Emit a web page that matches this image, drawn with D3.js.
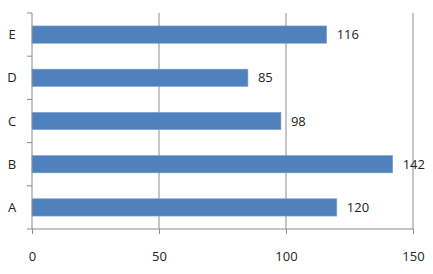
<!DOCTYPE html>
<html>
<head>
<meta charset="utf-8">
<script src="https://cdn.jsdelivr.net/npm/d3@7"></script>
<style>
  body { margin: 0; background: #fff; }
  text { font-family: "Open Sans", "Liberation Sans", sans-serif; fill: #222; }
</style>
</head>
<body>
<script>
// Chart data
const categories = ['A', 'B', 'C', 'D', 'E'];
const values = [120, 142, 98, 85, 116];
const xTicks = [0, 50, 100, 150];

const width = 433;
const height = 274;
const margin = { top: 13, right: 20, bottom: 45, left: 32 };

const svg = d3.select('body')
  .append('svg')
  .attr('width', width)
  .attr('height', height);

// Scales
const xScale = d3.scaleLinear()
  .domain([0, 150])
  .range([margin.left, 413]);

const yScale = d3.scaleBand()
  .domain(categories.slice().reverse())
  .range([margin.top, height - margin.bottom])
  .paddingInner(0.6)
  .paddingOuter(0.3);

const plotBottom = height - margin.bottom;

// Vertical gridlines
svg.append('g')
  .selectAll('line')
  .data(xTicks.slice(1))
  .enter()
  .append('line')
  .attr('x1', d => xScale(d))
  .attr('x2', d => xScale(d))
  .attr('y1', margin.top)
  .attr('y2', plotBottom)
  .attr('stroke', '#8c8c8c')
  .attr('stroke-width', 1);

// Bars
svg.selectAll('.bar')
  .data(categories)
  .enter()
  .append('rect')
  .attr('class', 'bar')
  .attr('x', xScale(0))
  .attr('y', d => yScale(d))
  .attr('width', (d, i) => xScale(values[i]) - xScale(0))
  .attr('height', yScale.bandwidth())
  .attr('fill', '#4f81bd')
  .attr('stroke', '#7aa1d2')
  .attr('stroke-width', 0.6);

// Value labels
svg.selectAll('.val')
  .data(categories)
  .enter()
  .append('text')
  .attr('class', 'val')
  .attr('x', (d, i) => xScale(values[i]) + 10)
  .attr('y', d => yScale(d) + yScale.bandwidth() / 2)
  .attr('dy', '0.35em')
  .attr('font-size', 13)
  .text((d, i) => values[i]);

// X axis
const xAxis = d3.axisBottom(xScale)
  .tickValues(xTicks)
  .tickSize(5)
  .tickPadding(18);

const gx = svg.append('g')
  .attr('transform', 'translate(0,' + plotBottom + ')')
  .call(xAxis);
gx.select('.domain').attr('stroke', '#8c8c8c').attr('d', 'M' + xScale(0) + ',0H' + xScale(150));
gx.selectAll('.tick line').attr('stroke', '#8c8c8c');
gx.selectAll('.tick text').attr('font-size', 13).style('font-family', '"Open Sans", sans-serif').attr('fill', '#222');

// Y axis: ticks at category boundaries
const step = yScale.step();
const boundaries = d3.range(categories.length + 1).map(i => margin.top + i * (plotBottom - margin.top) / categories.length);

svg.append('line')
  .attr('x1', xScale(0)).attr('x2', xScale(0))
  .attr('y1', margin.top).attr('y2', plotBottom)
  .attr('stroke', '#8c8c8c');

svg.append('g')
  .selectAll('line')
  .data(boundaries)
  .enter()
  .append('line')
  .attr('x1', xScale(0) - 5)
  .attr('x2', xScale(0))
  .attr('y1', d => d)
  .attr('y2', d => d)
  .attr('stroke', '#8c8c8c');

svg.append('g')
  .selectAll('text')
  .data(categories)
  .enter()
  .append('text')
  .attr('x', 12)
  .attr('y', d => yScale(d) + yScale.bandwidth() / 2)
  .attr('dy', '0.35em')
  .attr('text-anchor', 'middle')
  .attr('font-size', 13)
  .text(d => d);
</script>
</body>
</html>
